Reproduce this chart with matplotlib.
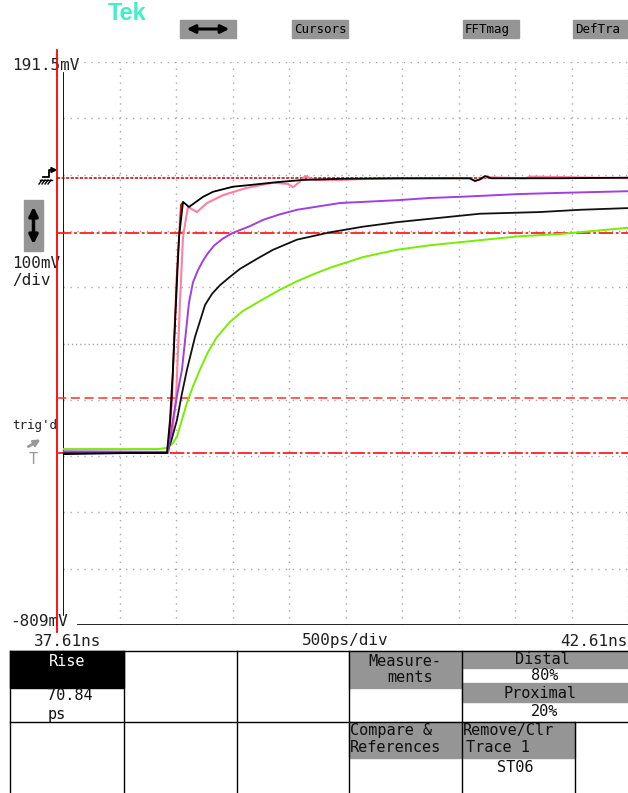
import matplotlib
matplotlib.use('Agg')
import matplotlib.pyplot as plt
from matplotlib.patches import Rectangle, Polygon

W, H = 628, 793
MONO = 'DejaVu Sans Mono'

# screen scales
t_left, t_right = 37.61, 42.61      # ns, 500 ps/div
v_top, v_bottom = 191.5, -808.5     # mV, 100 mV/div
t_cursor = 37.557                   # red time cursor

# measurement levels (mV)
level_top = -15
level_distal = -113
level_proximal = -405
level_base = -503

# traces: time (ns), voltage (mV)
red_t = [37.61, 38.539, 38.574, 38.592, 38.619, 38.637, 38.654, 38.663]
red_v = [-503, -503, -409, -307, -178, -119, -62, -60]

pink_t = [37.61, 38.539, 38.58, 38.61, 38.645, 38.672, 38.716, 38.796, 38.884,
          39.026, 39.238, 39.469, 39.60, 39.646, 39.70, 39.752, 39.84, 40.061,
          40.30, 41.20, 41.256, 41.30, 41.345, 41.70, 41.75, 42.61]
pink_v = [-503, -503, -460, -409, -237, -119, -66, -75, -59,
          -45, -32, -23, -25, -31, -22, -11, -18, -18,
          -16, -15, -19, -17, -13, -15, -12, -15]

green_t = [37.61, 38.45, 38.53, 38.58, 38.619, 38.66, 38.707, 38.76, 38.822,
           38.89, 38.973, 39.088, 39.20, 39.38, 39.53, 39.681, 39.82, 39.973,
           40.265, 40.566, 40.858, 41.30, 41.654, 42.008, 42.61]
green_v = [-496, -496, -494, -486, -474, -446, -414, -385, -355,
           -325, -297, -270, -251, -230, -213, -198, -186, -174,
           -155, -142, -134, -125, -118, -114, -103]

black_slow_t = [37.61, 38.53, 38.57, 38.619, 38.66, 38.707, 38.778, 38.867,
                38.93, 38.999, 39.088, 39.176, 39.336, 39.469, 39.681, 39.973,
                40.265, 40.566, 40.858, 41.30, 41.832, 42.185, 42.61]
black_slow_v = [-503, -503, -480, -444, -400, -355, -297, -240,
                -220, -205, -190, -176, -157, -142, -124, -111,
                -101, -93, -87, -78, -75, -71, -68]

purple_t = [37.61, 38.539, 38.583, 38.62, 38.663, 38.725, 38.76, 38.805, 38.85,
            38.893, 38.95, 39.026, 39.114, 39.265, 39.38, 39.53, 39.681, 40.061,
            40.566, 40.858, 41.123, 41.654, 42.008, 42.61]
purple_v = [-500, -501, -444, -400, -355, -236, -200, -178, -161,
            -148, -134, -122, -112, -100, -89, -79, -71, -59,
            -54, -50, -48, -43, -41, -38]

black_fast_t = [37.61, 38.20, 38.53, 38.557, 38.583, 38.61, 38.637, 38.672,
                38.725, 38.78, 38.849, 38.938, 39.114, 39.265, 39.50, 39.734,
                40.06, 40.60, 41.21, 41.256, 41.30, 41.345, 41.40, 42.00, 42.61]
black_fast_v = [-505, -503, -503, -444, -355, -236, -119, -57,
                -66, -58, -48, -39, -30, -27, -22, -18,
                -16, -15, -15, -20, -17, -11, -15, -15, -14]

fig = plt.figure(figsize=(W / 100, H / 100), dpi=100)

# overlay in pixel coordinates for the scope chrome
ov = fig.add_axes([0, 0, 1, 1])
ov.set_xlim(0, W)
ov.set_ylim(H, 0)
ov.axis('off')

ax = fig.add_axes([63 / W, 1 - 625 / H, 565 / W, 563 / H])
ax.set_facecolor('none')
ax.set_xlim(t_left, t_right)
ax.set_ylim(v_bottom, v_top)
for s in ax.spines.values():
    s.set_visible(False)
ax.set_xticks([])
ax.set_yticks([])

# graticule
grid_c = '#a8a8a8'
for k in range(1, 11):
    ax.axvline(t_left + 0.5 * k, color=grid_c, lw=1, ls=(0, (1, 4)))
for k in range(0, 10):
    ls = (0, (1, 2)) if k == 5 else (0, (1, 4))
    ax.axhline(v_top - 100 * k, color=grid_c, lw=1, ls=ls)

# cursor / frame lines
ax.axvline(t_cursor, ymin=-0.0124, ymax=1.022, color='red', lw=1.3, clip_on=False)
ax.axvline(t_left + 0.002, ymin=0.018, ymax=0.98, color='black', lw=1.3)
ax.axhline(v_bottom, xmin=0.027, xmax=1, color='black', lw=1.2)

# measurement levels
ax.plot([t_cursor, t_right], [level_top] * 2, color='#c00000', lw=1.1,
        ls=(0, (2, 1)), clip_on=False)
ax.plot([t_cursor, t_right], [level_distal] * 2, color='#ff2020', lw=1.3,
        ls=(0, (8, 1.5, 1.5, 1.5)), clip_on=False)
ax.plot([t_cursor, t_right], [level_proximal] * 2, color='#ff3030', lw=1.1,
        ls=(0, (6, 3)), clip_on=False)
ax.plot([t_cursor, t_right], [level_base] * 2, color='#ff2020', lw=1.3,
        ls=(0, (8, 1.5, 1.5, 1.5)), clip_on=False)

# traces
ax.plot(red_t, red_v, color='#ff0000', lw=1.3)
ax.plot(pink_t, pink_v, color='#ff7fa0', lw=1.5)
ax.plot(green_t, green_v, color='#76ee00', lw=1.4)
ax.plot(black_slow_t, black_slow_v, color='#111111', lw=1.3)
ax.plot(purple_t, purple_v, color='#a040e0', lw=1.4)
ax.plot(black_fast_t, black_fast_v, color='black', lw=1.3)

# header
ov.text(108, 20, 'Tek', color='#40f0c8', fontsize=17, fontweight='bold',
        family='Liberation Sans', va='baseline', ha='left')
btn = '#959595'
ov.add_patch(Rectangle((180, 20), 56, 18, color=btn))
ov.annotate('', xy=(232, 29), xytext=(184, 29),
            arrowprops=dict(arrowstyle='<|-|>', color='black', lw=2.2,
                            mutation_scale=12))
for x0, lab in [(292, 'Cursors'), (463, 'FFTmag'), (573, 'DefTra')]:
    ov.add_patch(Rectangle((x0, 20), 56, 18, color=btn))
    ov.text(x0 + 2, 29.5, lab, family=MONO, fontsize=9, va='center', ha='left')

# left labels
lab_kw = dict(family=MONO, fontsize=11.5, va='center', ha='left', color='#202020')
ov.text(12, 66, '191.5mV', **lab_kw)
ov.text(12, 263, '100mV', **lab_kw)
ov.text(12, 280, '/div', **lab_kw)
ov.text(10, 622, '-809mV', **lab_kw)
ov.text(34, 641, '37.61ns', **lab_kw)
ov.text(345, 641, '500ps/div', **dict(lab_kw, ha='center'))
ov.text(628, 641, '42.61ns', **dict(lab_kw, ha='right'))
ov.text(12, 426, "trig'd", family=MONO, fontsize=9, va='center', ha='left',
        color='#202020')

# trigger level marker
ov.plot([43, 49, 49, 52], [177, 177, 170, 170], color='black', lw=1.3)
ov.add_patch(Polygon([[51, 167.5], [56, 170], [51, 172.5]], color='black'))
ov.plot([40, 52], [180, 180], color='black', lw=1)
for xx in [39, 42, 45, 48]:
    ov.plot([xx, xx + 3], [184, 180], color='black', lw=1)

# vertical position button
ov.add_patch(Rectangle((24, 200), 19, 51, color=btn))
ov.annotate('', xy=(33.5, 247), xytext=(33.5, 204),
            arrowprops=dict(arrowstyle='<|-|>', color='black', lw=2.5,
                            mutation_scale=13))

# trigger arrow and T
ov.annotate('', xy=(43, 438), xytext=(26, 448),
            arrowprops=dict(arrowstyle='-|>', color='#999999', lw=2,
                            mutation_scale=9))
ov.text(33.5, 460, 'T', family=MONO, fontsize=11, color='#999999',
        va='center', ha='center')

# bottom measurement table
tk = dict(family=MONO, fontsize=11, va='center', color='#101010')
ov.add_patch(Rectangle((10, 651), 114, 37, color='black'))
ov.add_patch(Rectangle((349, 651), 113, 37, color=btn))
ov.add_patch(Rectangle((462, 651), 166, 17, color=btn))
ov.add_patch(Rectangle((462, 683), 166, 19, color=btn))
ov.add_patch(Rectangle((349, 722), 113, 36, color=btn))
ov.add_patch(Rectangle((462, 722), 113, 36, color=btn))

ov.plot([10, 628], [651, 651], color='black', lw=1)
ov.plot([10, 628], [722, 722], color='black', lw=1)
for xc in [10, 124, 237, 349, 462]:
    ov.plot([xc, xc], [651, 793], color='black', lw=1)
ov.plot([575, 575], [722, 793], color='black', lw=1)

ov.text(67, 661, 'Rise', ha='center', **dict(tk, color='white'))
ov.text(70, 696, '70.84', ha='center', **tk)
ov.text(57, 714, 'ps', ha='center', **tk)
ov.text(405, 661, 'Measure-', ha='center', **tk)
ov.text(410, 678, 'ments', ha='center', **tk)
ov.text(542, 660, 'Distal', ha='center', **tk)
ov.text(545, 676, '80%', ha='center', **tk)
ov.text(540, 694, 'Proximal', ha='center', **tk)
ov.text(545, 712, '20%', ha='center', **tk)
ov.text(350, 731, 'Compare &', ha='left', **tk)
ov.text(350, 748, 'References', ha='left', **tk)
ov.text(463, 731, 'Remove/Clr', ha='left', **tk)
ov.text(466, 748, 'Trace 1', ha='left', **tk)
ov.text(515, 768, 'ST06', ha='center', **tk)

fig.savefig('out.png', dpi=100)
